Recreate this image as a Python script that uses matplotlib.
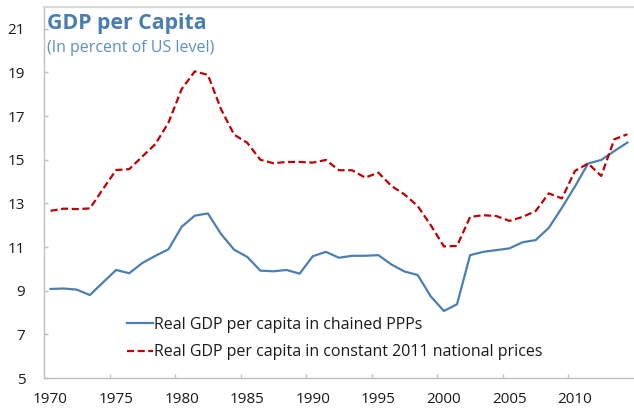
import matplotlib
matplotlib.use("Agg")
import matplotlib.pyplot as plt

plt.rcParams['font.family'] = ['Open Sans', 'DejaVu Sans']

years = list(range(1970, 2015))
chained_ppp = [9.08, 9.10, 9.05, 8.80, 9.38, 9.95, 9.80, 10.27, 10.60, 10.90,
               11.93, 12.44, 12.54, 11.60, 10.88, 10.55, 9.92, 9.89, 9.95, 9.78,
               10.58, 10.78, 10.51, 10.60, 10.60, 10.63, 10.20, 9.88, 9.72, 8.74,
               8.07, 8.38, 10.63, 10.78, 10.86, 10.94, 11.22, 11.32, 11.88, 12.80,
               13.78, 14.83, 14.99, 15.40, 15.79]
const_2011 = [12.66, 12.76, 12.74, 12.77, 13.66, 14.53, 14.57, 15.15, 15.72, 16.71,
              18.24, 19.05, 18.89, 17.32, 16.15, 15.78, 15.00, 14.84, 14.90, 14.90,
              14.87, 14.99, 14.52, 14.52, 14.18, 14.41, 13.80, 13.41, 12.88, 12.00,
              11.03, 11.05, 12.38, 12.46, 12.42, 12.20, 12.38, 12.65, 13.46, 13.23,
              14.49, 14.83, 14.26, 15.94, 16.17]
label_ppp = "Real GDP per capita in chained PPPs"
label_const = "Real GDP per capita in constant 2011 national prices"
title = "GDP per Capita"
subtitle = "(In percent of US level)"
xtick_years = list(range(1970, 2011, 5))
yticks = list(range(5, 22, 2))

W, H = 634, 408
fig = plt.figure(figsize=(W / 100, H / 100), dpi=100)
ax = fig.add_axes([44 / W, (H - 378) / H, (W - 44) / W, (378 - 7) / H])

ax.plot(years, chained_ppp, color='#4a7fb5', lw=1.6, label=label_ppp)
ax.plot(years, const_2011, color='#c00000', lw=1.6, dashes=(3.2, 1.6), label=label_const)

ax.set_xlim(1969.5, 2014.5)
ax.set_ylim(5, 22)
ax.set_yticks(yticks)
ax.set_xticks([y - 0.5 for y in xtick_years[1:]])
ax.set_xticklabels([])
ax.set_xticks(xtick_years, [str(y) for y in xtick_years], minor=True)

grey = '#bfbfbf'
for s in ['left', 'bottom']:
    ax.spines[s].set_color(grey)
    ax.spines[s].set_linewidth(1.0)
ax.spines['right'].set_visible(False)
ax.spines['top'].set_color('#d9d9d9')
ax.spines['top'].set_linewidth(1.6)

ax.tick_params(axis='both', which='major', direction='in', length=3, width=1.0, color=grey,
               labelsize=11, labelcolor='#1a1a1a')
ax.tick_params(axis='y', which='major', pad=13.5)
ax.tick_params(axis='x', which='minor', length=0, pad=10, labelsize=11, labelcolor='#1a1a1a')

fig.text(47 / W, 1 - 29 / H, title, fontsize=15.3, fontweight='bold', color='#4a7db0', va='baseline')
fig.text(47 / W, 1 - 52 / H, subtitle, fontsize=11.5, color='#5b8fc8', va='baseline')

ax.legend(loc='center left', bbox_to_anchor=(127 / W, 1 - 338.5 / H), bbox_transform=fig.transFigure,
          frameon=False, borderpad=0, borderaxespad=0, handlelength=1.6, handletextpad=0.12,
          labelspacing=0.72, prop={'size': 11.5}, labelcolor='#1a1a1a')

fig.savefig('out.png', dpi=100)
